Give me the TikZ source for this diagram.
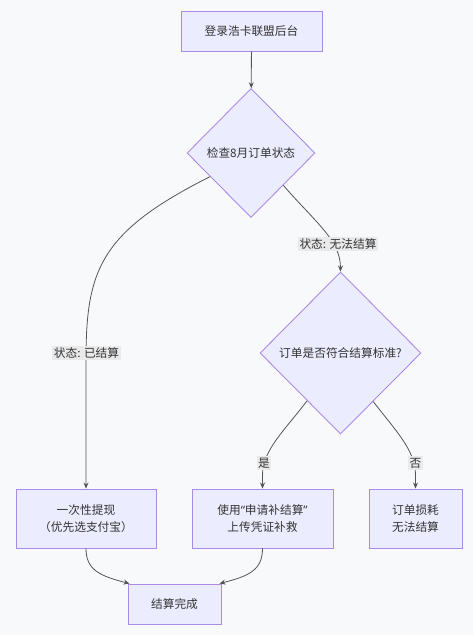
\documentclass[tikz,border=0pt]{standalone}
\usepackage{fontspec}
\setmainfont{Noto Sans CJK SC}
\newfontfamily\quotefont{Noto Sans}
\usetikzlibrary{shapes.geometric,arrows.meta}
\definecolor{bg}{RGB}{248,249,250}
\definecolor{nodefill}{RGB}{236,236,255}
\definecolor{nodestroke}{RGB}{170,140,230}
\definecolor{txt}{RGB}{51,51,51}
\definecolor{edgec}{RGB}{85,85,85}
\definecolor{lblbg}{RGB}{234,234,234}
\begin{document}
\begin{tikzpicture}[x=1pt,y=-1pt,
 every node/.style={font=\fontsize{11.7}{17.5}\selectfont, text=txt},
 box/.style={draw=nodestroke, fill=nodefill, line width=0.9pt, rectangle, inner sep=0pt, align=center},
 decision/.style={draw=nodestroke, fill=nodefill, line width=0.9pt, diamond, inner sep=0pt, align=center},
 conn/.style={draw=edgec, line width=0.8pt, -{Stealth[length=6pt,width=5pt]}},
 elabel/.style={fill=lblbg, inner sep=1.5pt}]
\path[fill=bg] (0,0) rectangle (473,635);
\useasboundingbox (0,0) rectangle (473,635);
\node[box, minimum width=141pt, minimum height=40pt] (start) at (251.5,31) {登录浩卡联盟后台};
\node[decision, minimum width=128pt, minimum height=129pt] (d1) at (251,153) {检查8月订单状态};
\node[decision, minimum width=161pt, minimum height=162pt] (d2) at (340.5,353) {订单是否符合结算标准?};
\node[box, minimum width=140pt, minimum height=59pt] (a) at (86,518.5) {一次性提现\\（优先选支付宝）};
\node[box, minimum width=141pt, minimum height=59pt] (b) at (262.5,518.5) {使用{\quotefont “}申请补结算{\quotefont ”}\\上传凭证补救};
\node[box, minimum width=93pt, minimum height=59pt] (c) at (415.5,518.5) {订单损耗\\无法结算};
\node[box, minimum width=93pt, minimum height=40pt] (done) at (174.5,604) {结算完成};
\draw[conn] (start) -- (d1);
\draw[conn] (d1.-150) .. controls (100,232) and (86,270) .. (86,360) -- (a);
\draw[conn] (d1.-45) .. controls (315,222) and (340.5,240) .. (d2.north);
\draw[conn] (d2.-125) .. controls (285,430) and (262.5,450) .. (262.5,475) -- (b.north);
\draw[conn] (d2.-56) .. controls (395,430) and (415.5,450) .. (415.5,475) -- (c.north);
\draw[conn] (a.south) .. controls (86,570) and (100,576) .. ([xshift=2pt]done.north west);
\draw[conn] (b.south) .. controls (262.5,570) and (249,576) .. ([xshift=-2pt]done.north east);
\node[elabel] (l1) at (86.5,353) {状态: 已结算};
\node[elabel] (l2) at (338,244) {状态: 无法结算};
\node[elabel] (l3) at (264,463) {是};
\node[elabel] (l4) at (415.5,463) {否};
\end{tikzpicture}
\end{document}
